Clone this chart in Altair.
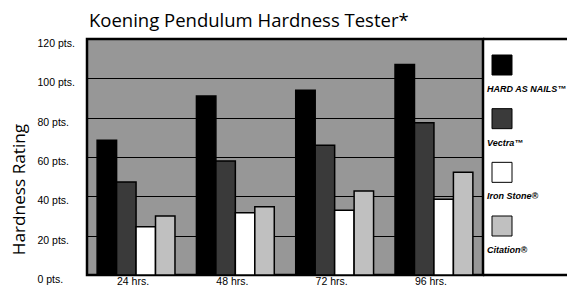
import altair as alt
import pandas as pd

times = ["24 hrs.", "48 hrs.", "72 hrs.", "96 hrs."]
series = ["HARD AS NAILS™", "Vectra™", "Iron Stone®", "Citation®"]
hard_as_nails = [68.5, 91.0, 94.0, 107.0]
vectra = [47.3, 58.0, 66.0, 77.4]
iron_stone = [24.5, 31.7, 32.9, 38.5]
citation = [30.0, 34.7, 42.7, 52.3]
colors = ["#000000", "#3a3a3a", "#ffffff", "#c0c0c0"]
y_ticks = [0, 20, 40, 60, 80, 100, 120]

rows = []
for s, vals in zip(series, [hard_as_nails, vectra, iron_stone, citation]):
    for t, v in zip(times, vals):
        rows.append({"time": t, "series": s, "value": v})
df = pd.DataFrame(rows)
leg_df = pd.DataFrame({"series": series})
one = pd.DataFrame({"k": [0]})

W, H = 396, 236
LABEL_FONT = "Liberation Sans"
SANS = "Open Sans"

color_scale = alt.Scale(domain=series, range=colors)

bars = alt.Chart(df).mark_bar(stroke="black", strokeWidth=1.5).encode(
    x=alt.X("time:N", sort=times,
            scale=alt.Scale(paddingInner=0.216, paddingOuter=0.102),
            axis=alt.Axis(title=None, labelAngle=0, ticks=False, domain=False,
                          labelPadding=9, labelFont=LABEL_FONT, labelFontSize=10.5,
                          labelColor="black", labelBaseline="alphabetic",
                          labelOffset=-3)),
    xOffset=alt.XOffset("series:N", sort=series),
    y=alt.Y("value:Q", scale=alt.Scale(domain=[0, 120], nice=False),
            axis=alt.Axis(values=y_ticks, labelExpr="datum.value + ' pts.'",
                          title="Hardness Rating", titleFont=SANS, titleFontSize=17.2,
                          titleFontWeight="normal", titleColor="black",
                          titleX=-63, titleY=150, titleBaseline="alphabetic",
                          grid=True, gridColor="black", gridWidth=1, gridOpacity=1,
                          ticks=False, domain=False, labelAlign="left",
                          labelBaseline="middle", labelOffset=4.5,
                          labelPadding=50, labelFont=LABEL_FONT, labelFontSize=10.5,
                          labelColor="black")),
    color=alt.Color("series:N", sort=series, scale=color_scale, legend=None),
)

ypos = alt.Y("series:N", sort=series,
             scale=alt.Scale(type="point", range=[26, 187], padding=0), axis=None)

squares = alt.Chart(leg_df).mark_square(size=400, stroke="black", strokeWidth=1,
                                        opacity=1).encode(
    x=alt.value(W + 19), y=ypos,
    color=alt.Color("series:N", sort=series, scale=color_scale, legend=None))

labels = alt.Chart(leg_df).mark_text(align="left", baseline="alphabetic", dy=27,
                                     font=LABEL_FONT, fontStyle="italic",
                                     fontWeight="bold", fontSize=9,
                                     fill="#000000").encode(
    x=alt.value(W + 4), y=ypos, text="series:N")

top_rule = alt.Chart(one).mark_rule(color="black", strokeWidth=2.5).encode(
    x=alt.value(W), x2=alt.value(W + 100), y=alt.value(0))
bottom_rule = alt.Chart(one).mark_rule(color="black", strokeWidth=2.5).encode(
    x=alt.value(W), x2=alt.value(W + 100), y=alt.value(H))

chart = alt.layer(bars, squares, labels, top_rule, bottom_rule).resolve_scale(
    y="independent"
).properties(
    width=W, height=H,
    autosize=alt.AutoSizeParams(type="none"),
    padding={"left": 79, "top": 31, "right": 84, "bottom": 10},
    title=alt.TitleParams("Koening Pendulum Hardness Tester*", anchor="start",
                          frame="group", font=SANS, fontSize=18.5,
                          fontWeight="normal", color="black",
                          baseline="alphabetic", offset=-8, dx=2),
).configure_view(fill="#979797", stroke="black", strokeWidth=2.5)

chart.save("out.html", embed_options={"renderer": "svg", "actions": False})
